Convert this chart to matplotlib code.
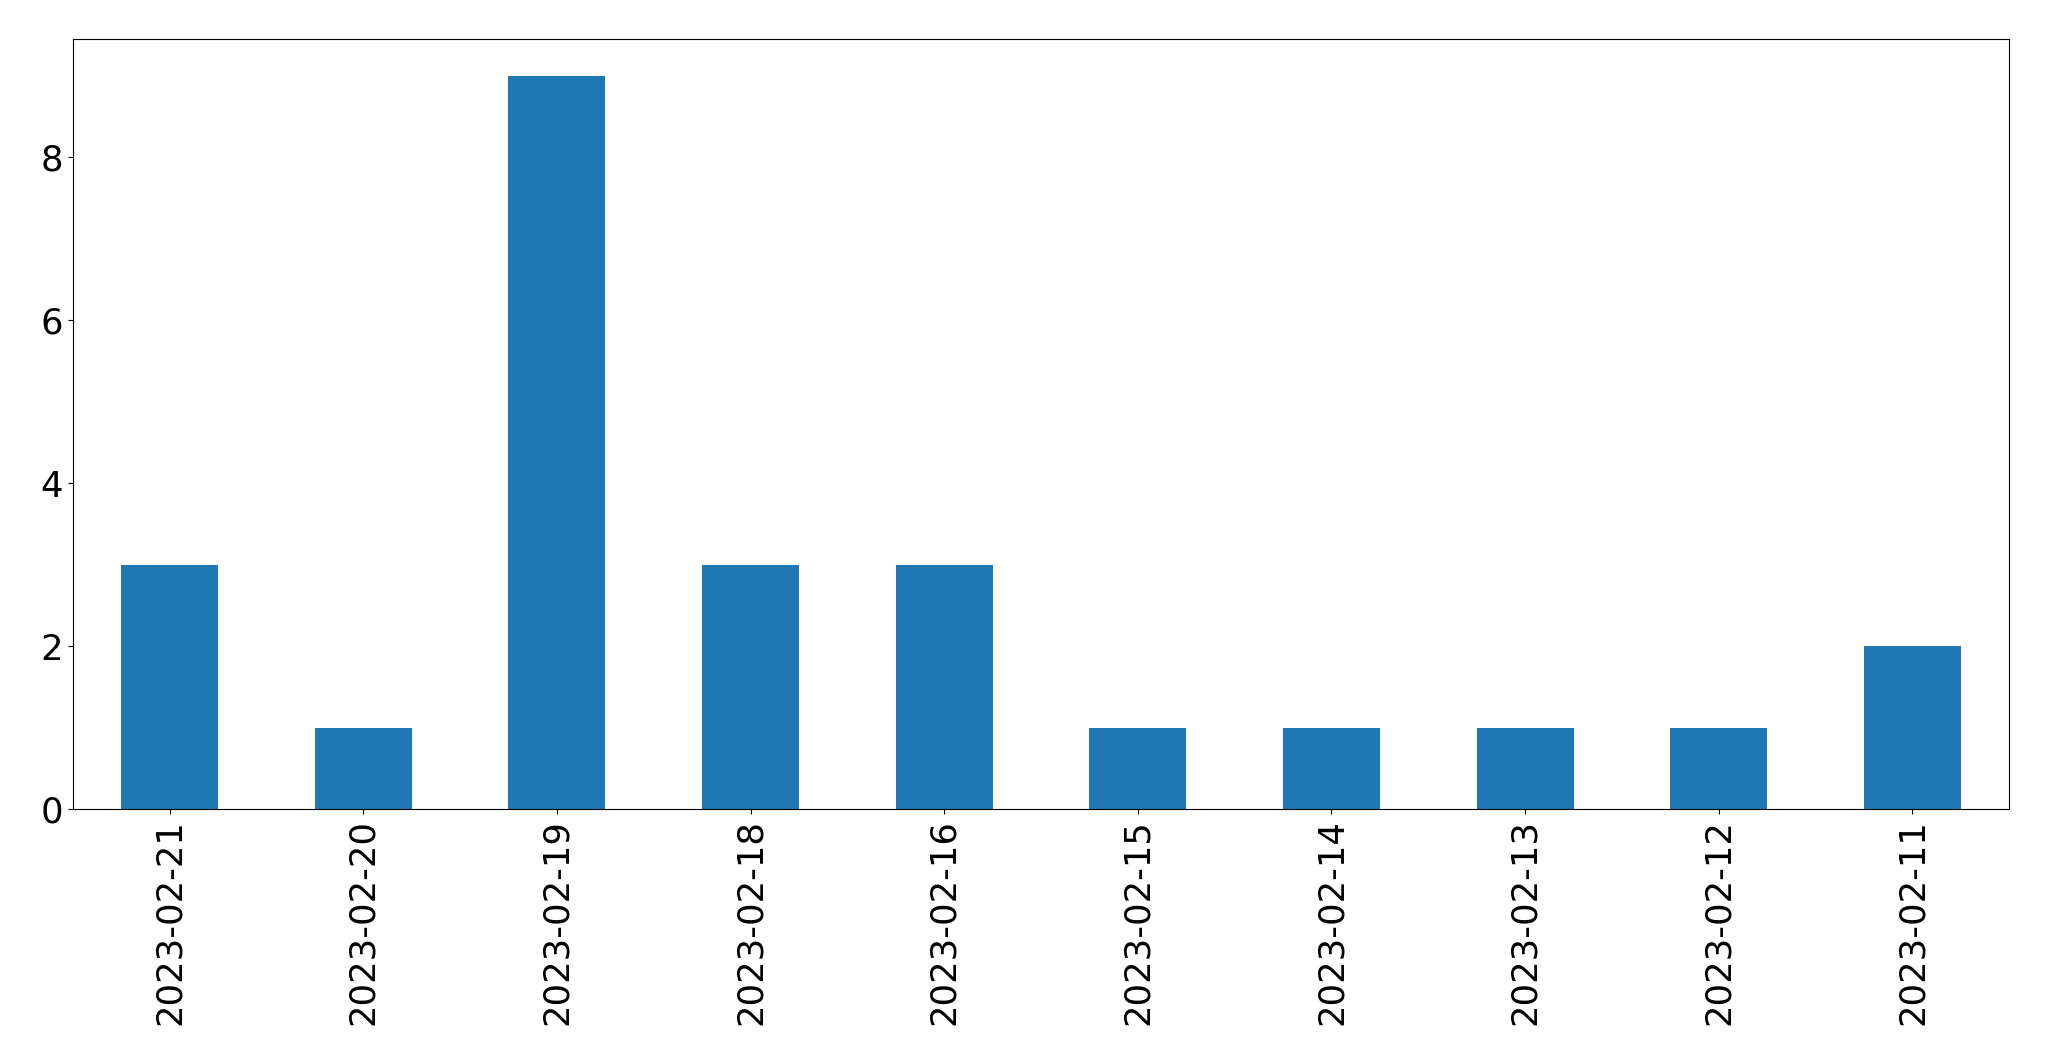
import matplotlib

matplotlib.use("Agg")
import matplotlib.pyplot as plt

dates = [
    "2023-02-21",
    "2023-02-20",
    "2023-02-19",
    "2023-02-18",
    "2023-02-16",
    "2023-02-15",
    "2023-02-14",
    "2023-02-13",
    "2023-02-12",
    "2023-02-11",
]
counts = [3, 1, 9, 3, 3, 1, 1, 1, 1, 2]


def main():
    fig, ax = plt.subplots(figsize=(20.49, 10.61), dpi=100)
    positions = list(range(len(dates)))
    ax.bar(positions, counts, width=0.5, color="#1f77b4")
    ax.set_xlim(-0.5, len(dates) - 0.5)
    ax.set_xticks(positions)
    ax.set_xticklabels(dates, rotation=90)
    ax.tick_params(labelsize=25.5)
    fig.subplots_adjust(left=72.7 / 2049, right=2009.3 / 2049,
                        top=1 - 39.0 / 1061, bottom=1 - 809.3 / 1061)
    fig.savefig("out.png", dpi=100)
    plt.close(fig)


if __name__ == "__main__":
    main()
